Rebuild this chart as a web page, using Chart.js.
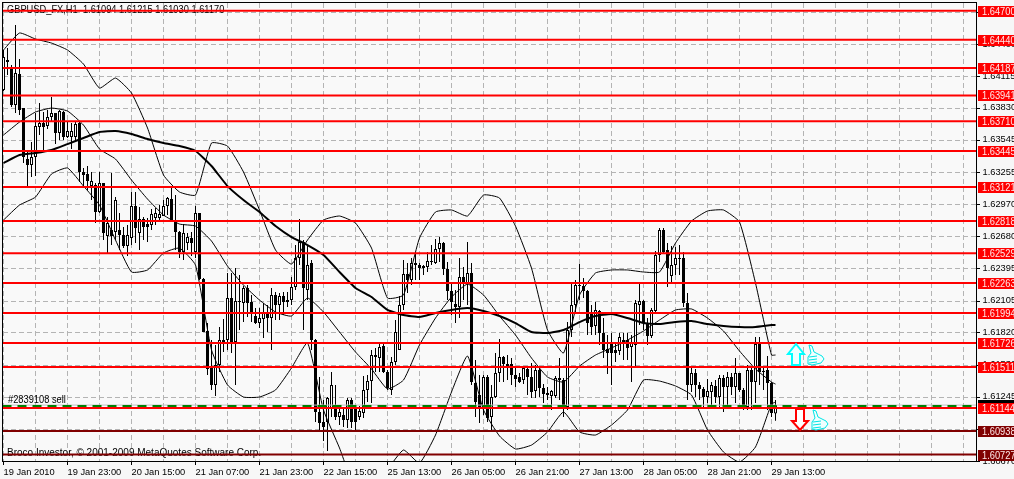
<!DOCTYPE html>
<html>
<head>
<meta charset="utf-8">
<title>GBPUSD H1</title>
<script src="https://cdn.jsdelivr.net/npm/chart.js@4/dist/chart.umd.min.js"></script>
<style>
  html, body { margin: 0; padding: 0; background: #f7f7f7; overflow: hidden; }
  canvas { display: block; }
</style>
</head>
<body>
<canvas id="fxChart" width="1014" height="479"></canvas>
<script>
var opens = [
1.63990,1.64258,1.64186,1.63855,1.64133,1.63828,1.63372,1.63318,1.63390,1.63658,1.63694,1.63667,1.63748,1.63784,1.63605,1.63793,
1.63569,1.63569,1.63569,1.63694,1.63256,1.63238,1.63130,1.63139,1.62898,1.63157,1.62683,1.62737,1.62719,1.62737,1.62692,1.62593,
1.62665,1.62952,1.62710,1.62835,1.62790,1.62781,1.62844,1.62844,1.62862,1.62952,1.63014,1.62808,1.62719,1.62540,1.62620,1.62665,
1.62540,1.62889,1.62298,1.61833,1.61511,1.61350,1.61528,1.61752,1.61752,1.62128,1.61734,1.62101,1.62083,1.62218,1.62092,1.61967,
1.61904,1.61940,1.62003,1.61949,1.62155,1.62065,1.62146,1.62092,1.62110,1.62226,1.62486,1.62629,1.62200,1.62441,1.61752,1.61108,
1.61018,1.61018,1.61143,1.61143,1.61063,1.61081,1.61036,1.61215,1.61143,1.61063,1.61099,1.61305,1.61385,1.61618,1.61591,1.61699,
1.61466,1.61305,1.61555,1.61663,1.62065,1.62343,1.62289,1.62441,1.62423,1.62414,1.62405,1.62459,1.62441,1.62567,1.62620,1.62388,
1.62191,1.62074,1.62047,1.62316,1.62253,1.62351,1.61367,1.61260,1.61152,1.61421,1.61063,1.61242,1.61457,1.61600,1.61519,1.61537,
1.61439,1.61421,1.61394,1.61493,1.61421,1.61296,1.61484,1.61323,1.61278,1.61251,1.61251,1.61412,1.61394,1.61152,1.61842,1.62065,
1.62244,1.62235,1.62191,1.61994,1.61878,1.62012,1.61815,1.61672,1.61726,1.61663,1.61654,1.61734,1.61752,1.61690,1.61708,1.62065,
1.62101,1.61904,1.61788,1.62012,1.62513,1.62737,1.62558,1.62325,1.62423,1.62486,1.62486,1.62083,1.61350,1.61457,1.61350,1.61314,
1.61242,1.61287,1.61341,1.61242,1.61412,1.61332,1.61421,1.61332,1.61457,1.61305,1.61152,1.61484,1.61376,1.61716,1.61475,1.61484,
1.61367,1.61094];
var highs = [
1.64348,1.64365,1.64213,1.64571,1.64267,1.63828,1.63453,1.63524,1.63784,1.63873,1.63793,1.63811,1.63927,1.63784,1.63811,1.63802,
1.63703,1.63694,1.63703,1.63703,1.63292,1.63310,1.63256,1.63157,1.63256,1.63157,1.62853,1.63247,1.63032,1.62889,1.62763,1.62781,
1.63077,1.63077,1.62942,1.62853,1.62844,1.62925,1.62933,1.62960,1.63005,1.63032,1.63121,1.63050,1.62728,1.62790,1.62710,1.62719,
1.62952,1.62889,1.62307,1.61904,1.61752,1.61708,1.61869,1.61940,1.62352,1.62352,1.62396,1.62334,1.62235,1.62244,1.62155,1.62038,
1.62038,1.62083,1.62065,1.62218,1.62182,1.62173,1.62182,1.62182,1.62316,1.62602,1.62835,1.62647,1.62593,1.62468,1.61761,1.61421,
1.61215,1.61242,1.61466,1.61350,1.61170,1.61152,1.61233,1.61233,1.61170,1.61161,1.61430,1.61439,1.61663,1.61681,1.61726,1.61734,
1.61484,1.61600,1.61931,1.62146,1.62468,1.62441,1.62486,1.62540,1.62441,1.62423,1.62540,1.62602,1.62656,1.62674,1.62629,1.62450,
1.62271,1.62200,1.62486,1.62405,1.62629,1.62441,1.61573,1.61439,1.61439,1.61439,1.61350,1.61636,1.61761,1.61609,1.61618,1.61591,
1.61502,1.61457,1.61511,1.61502,1.61546,1.61528,1.61511,1.61359,1.61332,1.61305,1.61430,1.61591,1.61412,1.61913,1.62262,1.62289,
1.62432,1.62307,1.62200,1.62065,1.62092,1.62021,1.61949,1.61797,1.61815,1.61726,1.61815,1.61815,1.61815,1.61797,1.62110,1.62271,
1.62110,1.61949,1.62038,1.62549,1.62755,1.62755,1.62620,1.62593,1.62584,1.62602,1.62540,1.62173,1.61502,1.61493,1.61376,1.61332,
1.61403,1.61376,1.61394,1.61439,1.61439,1.61466,1.61457,1.61591,1.61457,1.61323,1.61528,1.61502,1.61779,1.61779,1.61511,1.61609,
1.61376,1.61215];
var lows = [
1.63981,1.64124,1.63837,1.63784,1.63766,1.63336,1.63112,1.63211,1.63220,1.63587,1.63453,1.63640,1.63703,1.63506,1.63542,1.63542,
1.63560,1.63462,1.63524,1.63166,1.63121,1.63095,1.63005,1.62799,1.62889,1.62647,1.62531,1.62602,1.62647,1.62558,1.62575,1.62504,
1.62602,1.62620,1.62558,1.62647,1.62629,1.62737,1.62781,1.62808,1.62862,1.62871,1.62808,1.62558,1.62486,1.62468,1.62558,1.62504,
1.62486,1.62289,1.61824,1.61439,1.61305,1.61251,1.61466,1.61645,1.61663,1.61636,1.61350,1.61842,1.61913,1.61958,1.61913,1.61895,
1.61860,1.61770,1.61824,1.61663,1.61931,1.61931,1.61976,1.62047,1.62065,1.62200,1.62423,1.61842,1.62110,1.61663,1.61018,1.60947,
1.60848,1.60759,1.61063,1.61036,1.60991,1.60973,1.60964,1.60964,1.60947,1.61036,1.61054,1.61197,1.61188,1.61466,1.61466,1.61457,
1.61305,1.61260,1.61528,1.61663,1.62021,1.62173,1.62244,1.62289,1.62289,1.62334,1.62361,1.62423,1.62432,1.62450,1.62334,1.62110,
1.61976,1.61904,1.61949,1.62110,1.62065,1.61350,1.61063,1.61009,1.61081,1.61018,1.60929,1.61233,1.61376,1.61376,1.61394,1.61350,
1.61332,1.61367,1.61359,1.61260,1.61233,1.61233,1.61242,1.61188,1.61215,1.61126,1.61233,1.61215,1.61063,1.61126,1.61779,1.61994,
1.62110,1.62128,1.61797,1.61797,1.61797,1.61708,1.61591,1.61448,1.61350,1.61555,1.61618,1.61573,1.61573,1.61376,1.61511,1.61886,
1.61842,1.61708,1.61770,1.62003,1.62450,1.62522,1.62226,1.62271,1.62334,1.62334,1.62047,1.61215,1.61287,1.61242,1.61215,1.61152,
1.61188,1.61170,1.61188,1.61143,1.61108,1.61143,1.61260,1.61188,1.61287,1.61126,1.61126,1.61126,1.61188,1.61350,1.61305,1.61126,
1.61063,1.61030];
var closes = [
1.64285,1.64240,1.63855,1.64142,1.63811,1.63390,1.63318,1.63390,1.63667,1.63694,1.63658,1.63748,1.63784,1.63605,1.63802,1.63569,
1.63623,1.63623,1.63685,1.63256,1.63229,1.63175,1.63175,1.62898,1.63157,1.62710,1.62799,1.62683,1.63005,1.62692,1.62593,1.62692,
1.62952,1.62755,1.62835,1.62763,1.62763,1.62880,1.62889,1.62880,1.62952,1.63023,1.62808,1.62719,1.62540,1.62710,1.62674,1.62620,
1.62889,1.62298,1.61824,1.61493,1.61350,1.61528,1.61752,1.61734,1.62128,1.61734,1.62101,1.62092,1.62218,1.62083,1.61994,1.61904,
1.61949,1.62003,1.61949,1.62155,1.62065,1.62146,1.62092,1.62110,1.62226,1.62486,1.62629,1.62218,1.62423,1.61752,1.61108,1.61009,
1.60973,1.61233,1.61350,1.61063,1.61108,1.61036,1.61215,1.61018,1.61018,1.61117,1.61305,1.61385,1.61618,1.61600,1.61690,1.61466,
1.61323,1.61555,1.61824,1.62065,1.62343,1.62289,1.62441,1.62423,1.62396,1.62396,1.62459,1.62450,1.62567,1.62620,1.62388,1.62191,
1.62092,1.62047,1.62316,1.62253,1.62351,1.61376,1.61197,1.61152,1.61421,1.61054,1.61242,1.61457,1.61600,1.61537,1.61537,1.61439,
1.61403,1.61376,1.61502,1.61421,1.61287,1.61484,1.61323,1.61269,1.61260,1.61296,1.61412,1.61394,1.61152,1.61842,1.62065,1.62244,
1.62235,1.62191,1.61904,1.61869,1.62021,1.61815,1.61663,1.61636,1.61636,1.61636,1.61779,1.61752,1.61681,1.61726,1.62083,1.62101,
1.61904,1.61788,1.62021,1.62513,1.62737,1.62540,1.62396,1.62423,1.62486,1.62477,1.62083,1.61350,1.61457,1.61350,1.61314,1.61242,
1.61296,1.61350,1.61242,1.61412,1.61332,1.61421,1.61332,1.61457,1.61305,1.61152,1.61484,1.61376,1.61716,1.61466,1.61466,1.61367,
1.61099,1.61170];

// bollinger bands and the moving average, one reading every 4th bar plus the last bar
var upperBand = [1.64348,1.64500,1.64446,1.64410,1.64348,1.64222,1.64007,1.64097,1.63963,1.63650,1.63229,1.63077,1.63050,1.63515,1.63488,1.63256,
1.62916,1.62558,1.62432,1.62647,1.62826,1.62862,1.62799,1.62575,1.62128,1.62155,1.62665,1.62898,1.62916,1.62862,1.63050,1.63023,
1.62772,1.62396,1.61842,1.61636,1.62155,1.62352,1.62379,1.62379,1.62361,1.62361,1.62620,1.62817,1.62907,1.62916,1.62808,1.62262,1.61618,1.61618];
var middleBand = [1.63587,1.63703,1.63793,1.63828,1.63802,1.63676,1.63462,1.63372,1.63184,1.63014,1.62871,1.62790,1.62772,1.62638,1.62414,1.62244,
1.62110,1.62003,1.61967,1.62128,1.62003,1.61824,1.61645,1.61493,1.61314,1.61394,1.61708,1.61949,1.62137,1.62253,1.62155,1.61967,
1.61797,1.61591,1.61421,1.61376,1.61519,1.61618,1.61681,1.61752,1.61833,1.61931,1.62021,1.62030,1.61949,1.61833,1.61654,1.61493,1.61376,1.61358];
var lowerBand = [1.62826,1.62960,1.63032,1.63238,1.63292,1.63130,1.62960,1.62647,1.62361,1.62379,1.62531,1.62575,1.62423,1.61663,1.61350,1.61242,
1.61242,1.61305,1.61502,1.61726,1.61126,1.60786,1.60410,1.60320,1.60589,1.60768,1.60651,1.60902,1.61287,1.61609,1.61126,1.60893,
1.60777,1.60812,1.60929,1.61108,1.60929,1.60902,1.60991,1.61126,1.61394,1.61385,1.61341,1.61260,1.60947,1.60750,1.60660,1.60795,1.61179,1.61197];
var movingAverage = [1.63336,1.63408,1.63426,1.63453,1.63506,1.63560,1.63614,1.63623,1.63596,1.63551,1.63515,1.63488,1.63444,1.63310,1.63130,1.63005,
1.62898,1.62772,1.62674,1.62602,1.62513,1.62361,1.62218,1.62137,1.62021,1.61976,1.61958,1.61994,1.62021,1.62038,1.62012,1.61967,
1.61904,1.61824,1.61815,1.61842,1.61913,1.61967,1.61985,1.61949,1.61904,1.61895,1.61913,1.61922,1.61895,1.61878,1.61869,1.61869,1.61887,1.61887];

var redLevels = [1.64700,1.64440,1.64187,1.63941,1.63710,1.63445,1.63121,1.62818,1.62529,1.62263,1.61994,1.61726,1.61511,1.61144];
var darkLevels = [1.60938,1.60727];
var orderLevel = 1.61161;
var bidLevel = 1.61170;

var priceTicks = [1.64685,1.64400,1.64115,1.63830,1.63545,1.63255,1.62970,1.62680,1.62395,1.62105,1.61820,1.61530,1.61245,1.60955,1.60670];
var timeTicks = ['19 Jan 2010','19 Jan 23:00','20 Jan 15:00','21 Jan 07:00','21 Jan 23:00','22 Jan 15:00','25 Jan 13:00','26 Jan 05:00','26 Jan 21:00','27 Jan 13:00','28 Jan 05:00','28 Jan 21:00','29 Jan 13:00'];

var title = 'GBPUSD_FX,H1  1.61094 1.61215 1.61030 1.61170';
var orderNote = '#2839108 sell';
var copyright = 'Broco Investor, \u00A9 2001-2009 MetaQuotes Software Corp.';

var xMin = -0.25, xMax = 243.25;
var labelFont = 'Liberation Sans';
var gridColor = '#b4b4b4';

function bandData(values) {
  return values.map(function (v, k) {
    return { x: k < values.length - 1 ? k * 4 : opens.length - 1, y: v };
  });
}

function levelLine(level, color, width, dash) {
  return {
    type: 'line', order: 0,
    data: [{ x: xMin, y: level }, { x: xMax, y: level }],
    borderColor: color, borderWidth: width, borderDash: dash || [],
    pointRadius: 0, tension: 0
  };
}

function thinLine(values, width) {
  return {
    type: 'line', order: 1,
    data: bandData(values),
    borderColor: '#000000', borderWidth: width,
    pointRadius: 0, tension: 0.15
  };
}

var bars = opens.map(function (_, i) { return i; });
var datasets = [];
redLevels.forEach(function (l) { datasets.push(levelLine(l, '#ff0000', 2)); });
darkLevels.forEach(function (l) { datasets.push(levelLine(l, '#800000', 2)); });
datasets.push(levelLine(orderLevel, '#008000', 2, [9, 6]));
datasets.push(levelLine(bidLevel, '#c0c0c0', 1));
datasets.push(thinLine(upperBand, 1));
datasets.push(thinLine(middleBand, 1));
datasets.push(thinLine(lowerBand, 1));
datasets.push(thinLine(movingAverage, 2));
datasets.push({
  type: 'bar', order: 2, grouped: false, barThickness: 3, inflateAmount: 0,
  data: bars.map(function (i) { return { x: i, y: [opens[i], closes[i]] }; }),
  backgroundColor: bars.map(function (i) { return closes[i] >= opens[i] ? '#ffffff' : '#000000'; }),
  borderColor: '#000000', borderWidth: 1, borderSkipped: false
});
datasets.push({
  type: 'bar', order: 3, grouped: false, barThickness: 1, inflateAmount: 0,
  data: bars.map(function (i) { return { x: i, y: [lows[i], highs[i]] }; }),
  backgroundColor: '#000000', borderWidth: 0
});

function squeezedText(ctx, text, x, y) {
  ctx.save();
  ctx.translate(x, y);
  ctx.scale(0.885, 1);
  ctx.font = '10.5px "' + labelFont + '"';
  ctx.textBaseline = 'middle';
  ctx.fillText(text, 0, 0);
  ctx.restore();
}

var chartFrame = {
  id: 'chartFrame',
  beforeDraw: function (chart) {
    var a = chart.chartArea, ctx = chart.ctx;
    ctx.save();
    ctx.fillStyle = '#f9f9f9';
    ctx.fillRect(a.left, a.top, a.right - a.left, a.bottom - a.top);
    ctx.restore();
  },
  beforeDatasetsDraw: function (chart) {
    var ctx = chart.ctx, x = chart.scales.x, y = chart.scales.y, a = chart.chartArea;
    var top = Math.ceil(a.top), bottom = Math.floor(a.bottom);
    var left = Math.ceil(a.left), right = Math.floor(a.right);
    var d, v;
    ctx.save();
    // dashed grid and tick marks, one pixel wide, placed through the scales
    for (v = 0; v <= xMax; v += 8) {
      var px = Math.floor(x.getPixelForValue(v));
      ctx.fillStyle = gridColor;
      for (d = top; d < bottom; d += 8) ctx.fillRect(px, d, 1, Math.min(5, bottom - d));
      if (v % 16 === 0 && timeTicks[v / 16]) {
        ctx.fillStyle = '#000000';
        ctx.fillRect(px, bottom, 1, 4);
      }
    }
    priceTicks.forEach(function (t) {
      var py = Math.round(y.getPixelForValue(t));
      ctx.fillStyle = gridColor;
      for (d = left; d < right; d += 8) ctx.fillRect(d, py, Math.min(5, right - d), 1);
      ctx.fillStyle = '#000000';
      ctx.fillRect(right, py, 4, 1);
    });
    ctx.fillStyle = '#000000';
    squeezedText(ctx, title, 7, y.getPixelForValue(1.64700) - 1);
    squeezedText(ctx, orderNote, 8, y.getPixelForValue(1.61215));
    ctx.font = '10px "' + labelFont + '"';
    ctx.textBaseline = 'middle';
    ctx.fillText(copyright, 7, y.getPixelForValue(1.60727) - 1);
    ctx.restore();
  },
  afterDraw: function (chart) {
    var ctx = chart.ctx, a = chart.chartArea, y = chart.scales.y;
    ctx.save();
    ctx.strokeStyle = '#000000';
    ctx.lineWidth = 1;
    ctx.strokeRect(a.left, a.top, a.right - a.left, a.bottom - a.top);
    function tag(level, color, textColor) {
      var py = Math.round(y.getPixelForValue(level));
      ctx.fillStyle = color;
      ctx.fillRect(978, py - 5, 36, 11);
      if (textColor) {
        ctx.fillStyle = textColor;
        squeezedText(ctx, level.toFixed(5), 982, py + 1);
      }
    }
    tag(bidLevel, '#000000');
    redLevels.forEach(function (l) { tag(l, '#ff0000', '#ffe8e8'); });
    darkLevels.forEach(function (l) { tag(l, '#800000', '#ffe8e8'); });
    drawSignals(chart);
    ctx.restore();
  }
};

function arrowPath(ctx, pts) {
  ctx.beginPath();
  pts.forEach(function (p, i) { if (i) ctx.lineTo(p[0], p[1]); else ctx.moveTo(p[0], p[1]); });
  ctx.closePath();
}

function thumb(ctx, x, y) {
  ctx.fillStyle = '#f0ffff';
  ctx.strokeStyle = '#00e5e5';
  ctx.lineWidth = 1;
  arrowPath(ctx, [[x+1,y],[x+4,y+1],[x+6,y+7],[x+14,y+11],[x+16,y+14],[x+13,y+18],[x+4,y+20],[x,y+19],[x,y+12],[x+3,y+8]]);
  ctx.fill();
  ctx.stroke();
  ctx.beginPath();
  [12, 15, 18].forEach(function (d) { ctx.moveTo(x + 1, y + d); ctx.lineTo(x + 9, y + d - 1); });
  ctx.stroke();
}

// the two signal arrows and their thumbs sit on a bar slot and a price
function drawSignals(chart) {
  var ctx = chart.ctx, sx = chart.scales.x, sy = chart.scales.y;
  var ux = Math.round(sx.getPixelForValue(198)), uy = Math.round(sy.getPixelForValue(1.61716));
  arrowPath(ctx, [[ux,uy],[ux+8,uy+10],[ux+4,uy+10],[ux+4,uy+21],[ux-4,uy+21],[ux-4,uy+10],[ux-8,uy+10]]);
  ctx.fillStyle = '#f0ffff';
  ctx.fill();
  ctx.strokeStyle = '#00ffff';
  ctx.lineWidth = 2;
  ctx.stroke();
  var dx = Math.round(sx.getPixelForValue(199)), dy = Math.round(sy.getPixelForValue(1.60947));
  arrowPath(ctx, [[dx,dy],[dx+8,dy-9],[dx+4,dy-9],[dx+4,dy-21],[dx-4,dy-21],[dx-4,dy-9],[dx-8,dy-9]]);
  ctx.fillStyle = '#ffffff';
  ctx.fill();
  ctx.strokeStyle = '#ff0000';
  ctx.stroke();
  thumb(ctx, Math.round(sx.getPixelForValue(201)), Math.round(sy.getPixelForValue(1.61708)));
  thumb(ctx, Math.round(sx.getPixelForValue(202)), Math.round(sy.getPixelForValue(1.61126)));
}

function noAxisPadding(axis) {
  axis.paddingLeft = 0; axis.paddingRight = 0; axis.paddingTop = 0; axis.paddingBottom = 0;
}

var ctx = document.getElementById('fxChart').getContext('2d');
var fxChart = new Chart(ctx, {
  type: 'bar',
  data: { datasets: datasets },
  plugins: [chartFrame],
  options: {
    responsive: false,
    animation: false,
    events: [],
    layout: { padding: { left: 2.5, top: 2.5, right: 0, bottom: 0 } },
    plugins: { legend: { display: false }, tooltip: { enabled: false } },
    scales: {
      x: {
        type: 'linear', min: xMin, max: xMax, offset: false,
        afterBuildTicks: function (axis) {
          var t = [];
          for (var v = 0; v <= xMax; v += 8) t.push({ value: v });
          axis.ticks = t;
        },
        afterFit: function (axis) { axis.height = 17.5; noAxisPadding(axis); },
        border: { display: false },
        grid: { display: false, offset: false, tickLength: 4 },
        ticks: {
          autoSkip: false, maxRotation: 0, align: 'start', padding: 1, color: '#000000',
          font: { family: labelFont, size: 9.3 },
          callback: function (v) { return v % 16 === 0 && timeTicks[v / 16] ? timeTicks[v / 16] : ''; }
        }
      },
      y: {
        position: 'right', min: 1.60665, max: 1.64773,
        afterBuildTicks: function (axis) {
          axis.ticks = priceTicks.map(function (v) { return { value: v }; });
        },
        afterFit: function (axis) { axis.width = 37.5; noAxisPadding(axis); },
        border: { display: false },
        grid: { display: false, tickLength: 4 },
        ticks: {
          autoSkip: false, padding: 2, color: '#000000',
          font: { family: labelFont, size: 9.3 },
          callback: function (v) { return v.toFixed(5); }
        }
      }
    }
  }
});
</script>
</body>
</html>
